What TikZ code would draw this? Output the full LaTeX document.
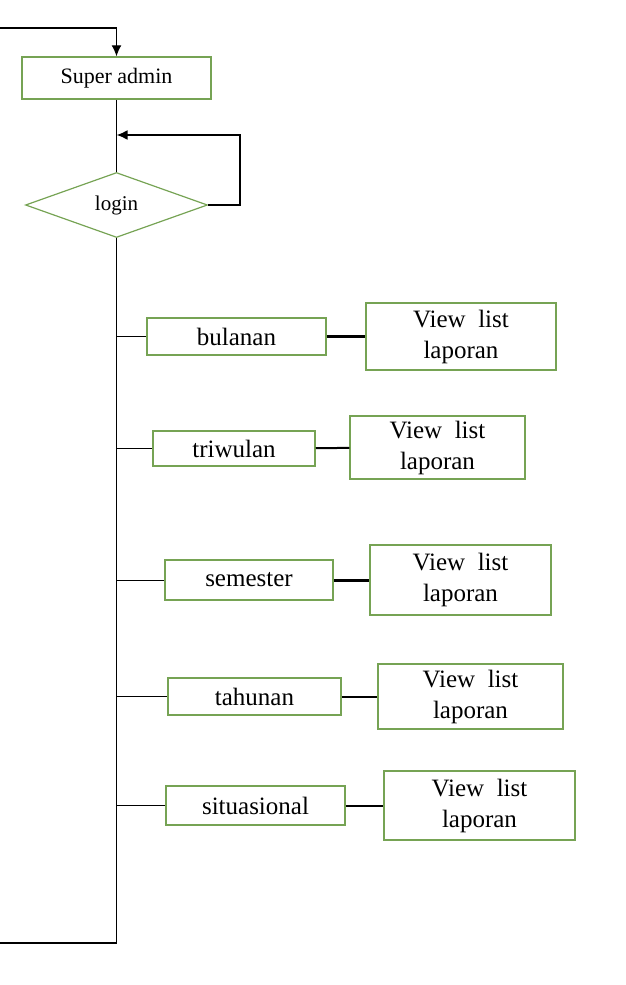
\documentclass[tikz,border=0pt]{standalone}
\usepackage{fontspec}
\setmainfont{Liberation Serif}
\usetikzlibrary{shapes.geometric,arrows.meta}
\definecolor{boxgreen}{RGB}{118,163,84}
\begin{document}
\begin{tikzpicture}[x=1pt, y=-1pt,
    kotak/.style={draw=boxgreen, line width=1.5pt, inner sep=0pt, align=center,
        font=\fontsize{25}{31}\selectfont},
    belah/.style={diamond, draw=boxgreen, line width=1.2pt, inner sep=0pt,
        minimum width=182pt, minimum height=65pt, font=\fontsize{21}{24}\selectfont},
    garis/.style={line width=1.2pt},
    >={Latex[length=11pt,width=10pt]}]
    \useasboundingbox (0,0) rectangle (625,985);

    % Super admin dan login
    \node[kotak, minimum width=189pt, minimum height=42pt,
        font=\fontsize{22}{25}\selectfont] (super) at (116.5,78) {Super admin};
    \node[belah] (login) at (116.5,205) {login};
    \coordinate (atas) at (0,28);
    \coordinate (masuk) at (116.5,135);
    \coordinate (bawah) at (116.5,943);
    \coordinate (kiri) at (0,943);
    \draw[garis, ->] (atas) -| (super.north);
    \draw[garis] (super.south) -- (masuk) -- (login.north);
    \draw[line width=2pt, ->] (login.east) -- ++(32,0) |- (masuk);
    \draw[garis] (login.south) -- (bawah) -- (kiri);

    % Jenis laporan
    \node[kotak, minimum width=179pt, minimum height=37pt] (bul) at (236.5,336.5) {bulanan};
    \node[kotak, minimum width=162pt, minimum height=35pt] (tri) at (234,448.5) {triwulan};
    \node[kotak, minimum width=168pt, minimum height=40pt] (sem) at (249,580) {semester};
    \node[kotak, minimum width=173pt, minimum height=37pt] (tah) at (254.5,696.5) {tahunan};
    \node[kotak, minimum width=179pt, minimum height=39pt] (sit) at (255.5,805.5) {situasional};

    % View list laporan
    \node[kotak, minimum width=190pt, minimum height=67pt] (vl1) at (461,336.5) {View\ \ list\\laporan};
    \node[kotak, minimum width=175pt, minimum height=63pt] (vl2) at (437.5,447.5) {View\ \ list\\laporan};
    \node[kotak, minimum width=181pt, minimum height=70pt] (vl3) at (460.5,580) {View\ \ list\\laporan};
    \node[kotak, minimum width=185pt, minimum height=65pt] (vl4) at (470.5,696.5) {View\ \ list\\laporan};
    \node[kotak, minimum width=191pt, minimum height=69pt] (vl5) at (479.5,805.5) {View\ \ list\\laporan};

    % Cabang dari garis utama
    \foreach \n in {bul,tri,sem,tah,sit}
        \draw[line width=1pt] (\n.west -| login.south) -- (\n.west);
    \draw[line width=3pt] (bul) -- (vl1);
    \draw[line width=2pt] (tri) -- (vl2);
    \draw[line width=3pt] (sem) -- (vl3);
    \draw[line width=2pt] (tah) -- (vl4);
    \draw[line width=2pt] (sit) -- (vl5);
\end{tikzpicture}
\end{document}
